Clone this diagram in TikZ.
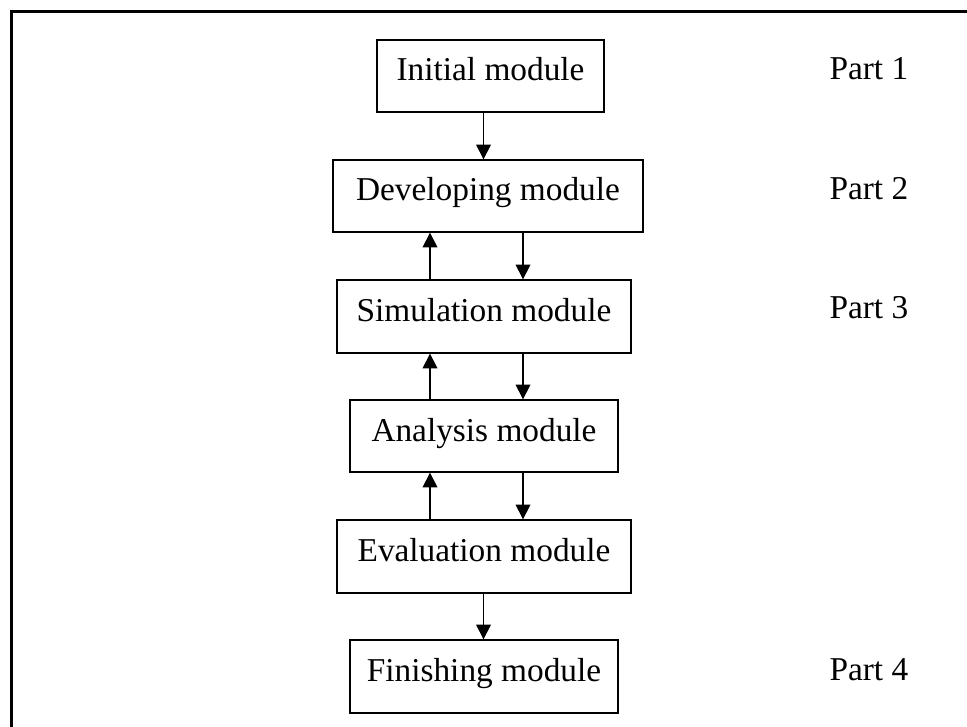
\documentclass[tikz,border=0pt]{standalone}
\usepackage{fontspec}
\setmainfont{Liberation Serif}
\usetikzlibrary{arrows.meta}

\tikzset{every picture/.style={line width=0.75pt}}
\tikzset{modbox/.style={draw, line width=1pt, inner sep=0pt, text height=13.5pt, text depth=6pt},
  partlbl/.style={anchor=base west, inner sep=0pt},
  flow/.style={line width=1pt, -{Triangle[length=11pt,width=11pt]}}}

\begin{document}
\begin{tikzpicture}[x=0.75pt,y=0.75pt,yscale=-1,font=\fontsize{25}{30}\selectfont]
%set diagram size
\useasboundingbox (0,0) rectangle (967,727);

%Frame Lines
\draw[line width=2pt] (11.5,727) -- (11.5,11.5) -- (967,11.5) ;

% Module Boxes
\node[modbox, minimum width=227*0.75pt, minimum height=72*0.75pt] (init) at (490.5,76) {Initial module};
\node[modbox, minimum width=310*0.75pt, minimum height=72*0.75pt] (dev) at (488,196) {Developing module};
\node[modbox, minimum width=294*0.75pt, minimum height=73*0.75pt] (sim) at (484,316.5) {Simulation module};
\node[modbox, minimum width=268*0.75pt, minimum height=72*0.75pt] (ana) at (484,436) {Analysis module};
\node[modbox, minimum width=294*0.75pt, minimum height=73*0.75pt] (eval) at (484,556.5) {Evaluation module};
\node[modbox, minimum width=268*0.75pt, minimum height=73*0.75pt] (fin) at (484,676.5) {Finishing module};

% Text Node
\node[partlbl] (p1) at (829,80) {Part 1};
% Text Node
\node[partlbl] (p2) at (829,200) {Part 2};
% Text Node
\node[partlbl] (p3) at (829,318) {Part 3};
% Text Node
\node[partlbl] (p4) at (829,680) {Part 4};

%Arrow columns
\coordinate (mid) at (483.5,0);
\coordinate (up) at (430,0);
\coordinate (dn) at (523,0);

%Straight Lines
\draw[flow] (init.south -| mid) -- (dev.north -| mid) ;
%Straight Lines
\draw[flow] (sim.north -| up) -- (dev.south -| up) ;
\draw[flow] (dev.south -| dn) -- (sim.north -| dn) ;
%Straight Lines
\draw[flow] (ana.north -| up) -- (sim.south -| up) ;
\draw[flow] (sim.south -| dn) -- (ana.north -| dn) ;
%Straight Lines
\draw[flow] (eval.north -| up) -- (ana.south -| up) ;
\draw[flow] (ana.south -| dn) -- (eval.north -| dn) ;
%Straight Lines
\draw[flow] (eval.south -| mid) -- (fin.north -| mid) ;

\end{tikzpicture}
\end{document}
